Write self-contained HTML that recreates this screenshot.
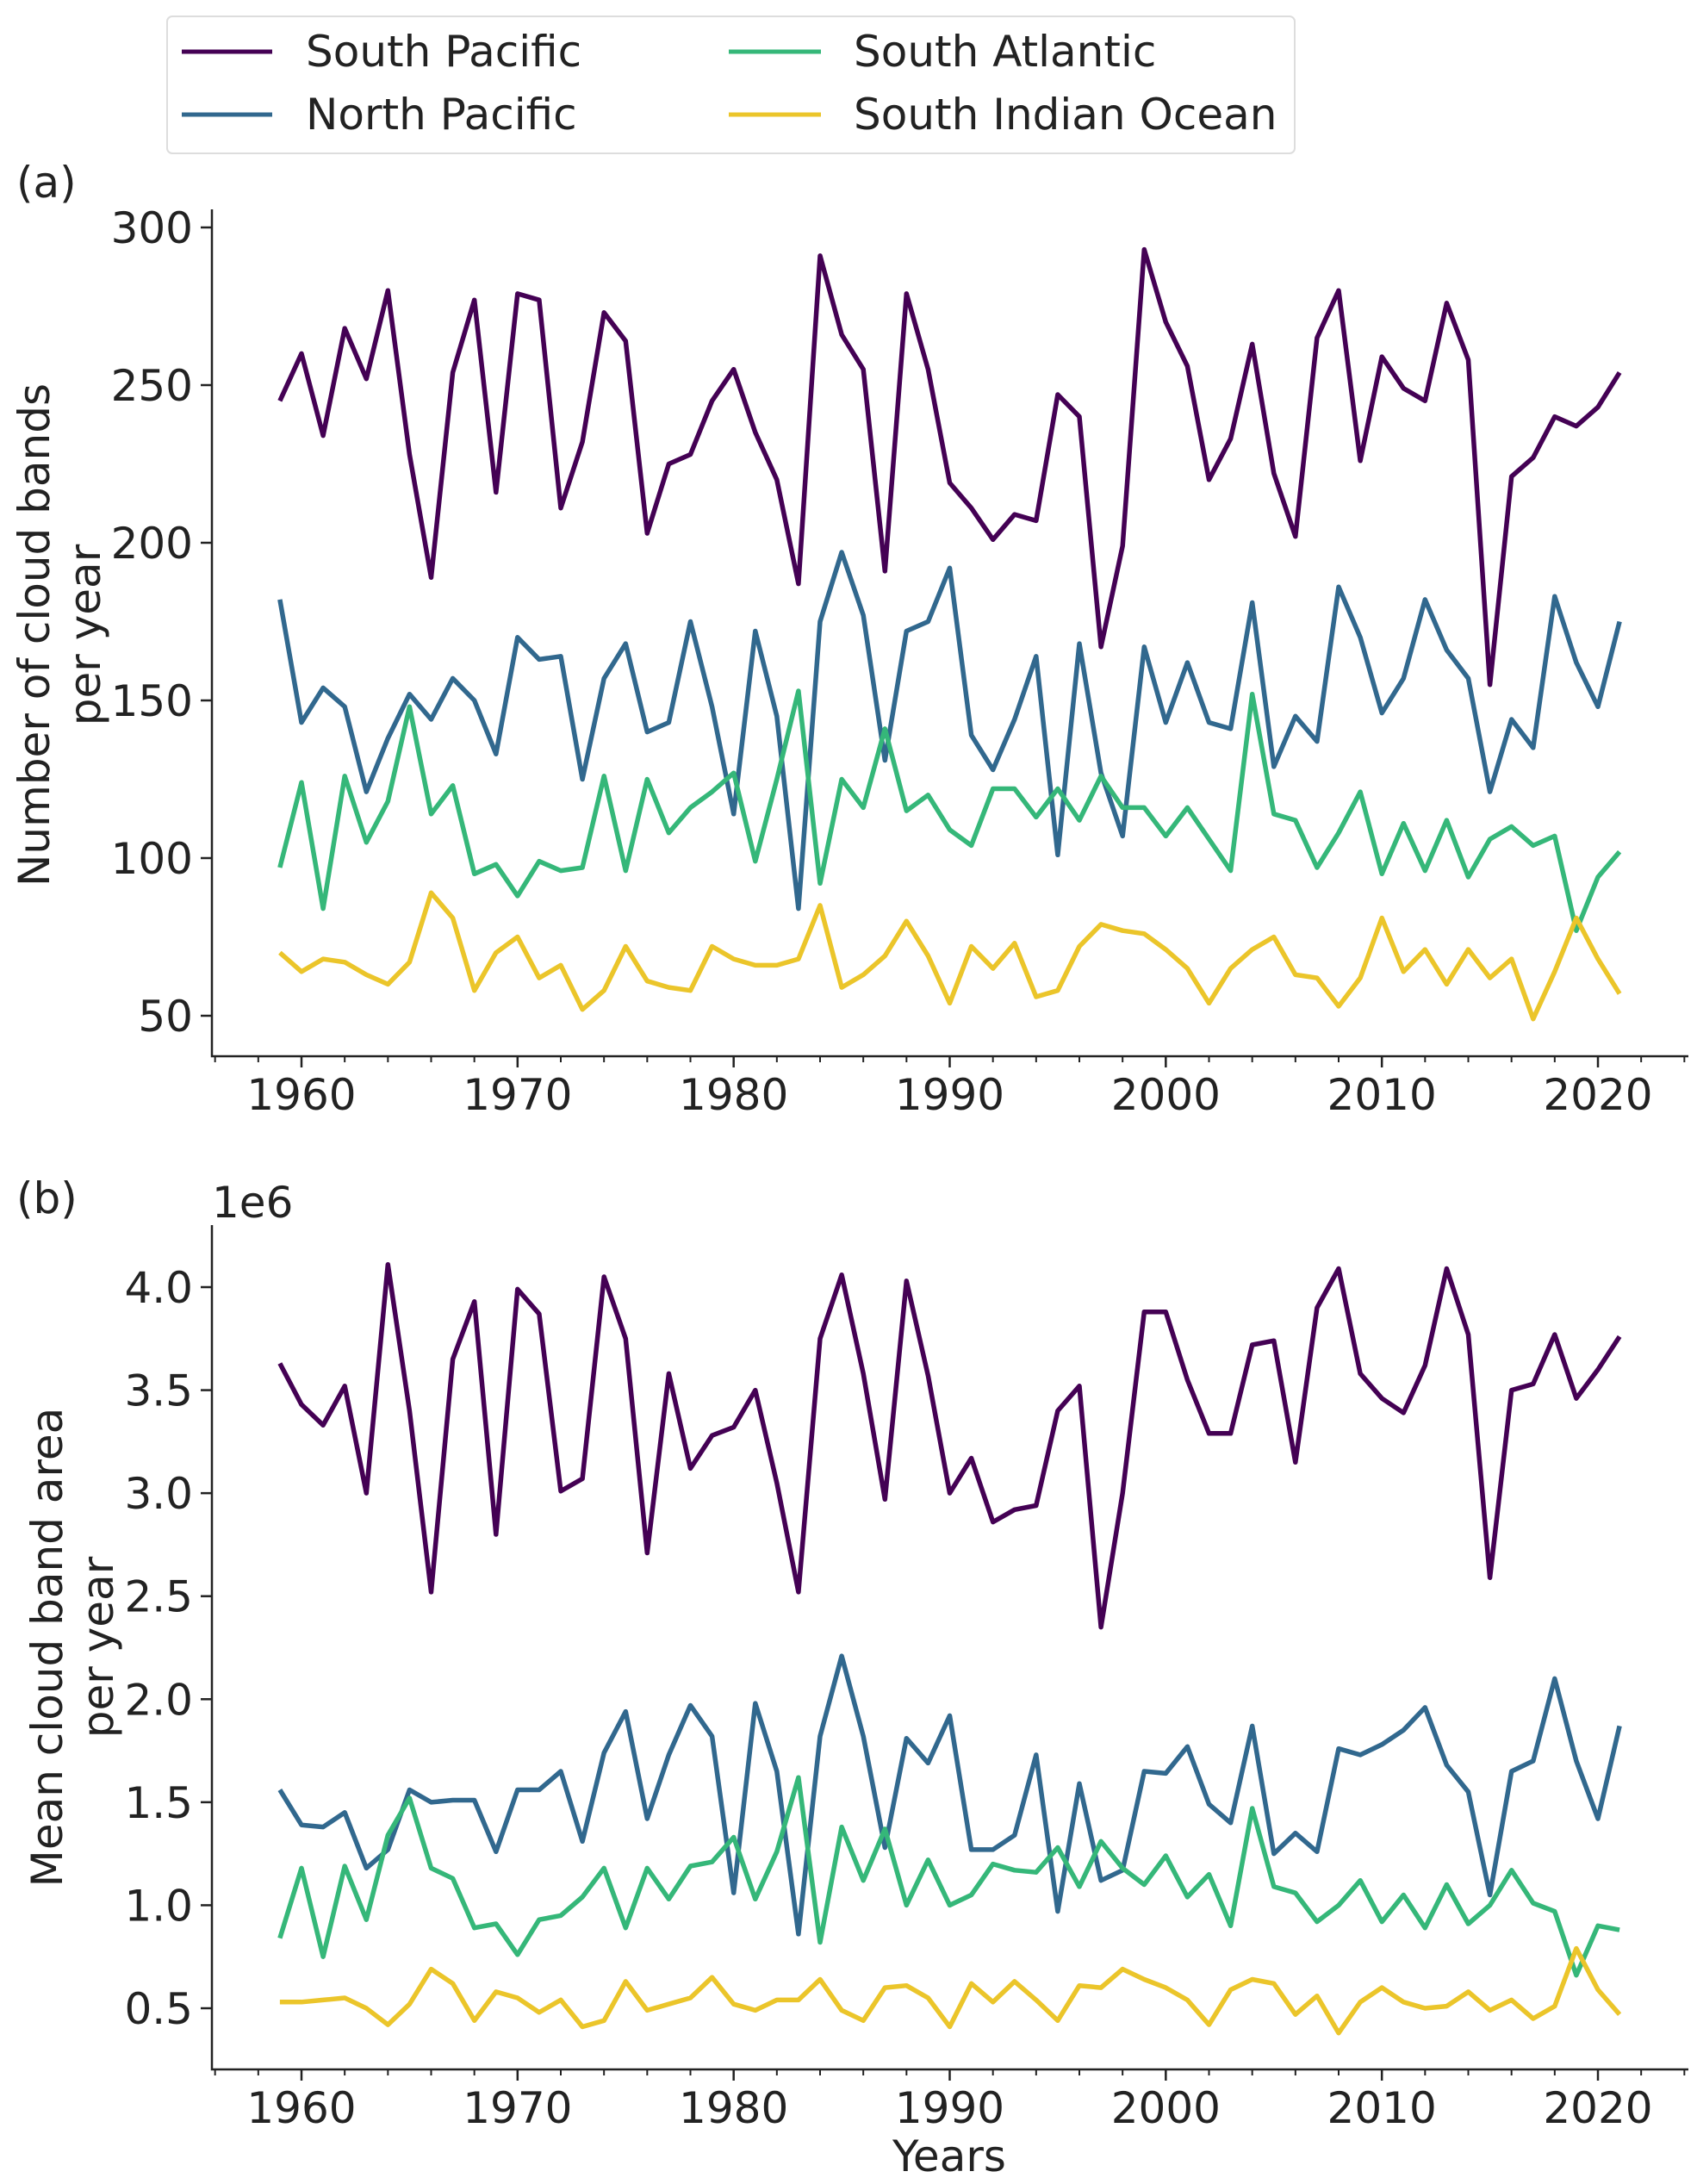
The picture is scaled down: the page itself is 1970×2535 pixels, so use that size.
<!DOCTYPE html>
<html><head><meta charset="utf-8"><style>
html,body{margin:0;padding:0;background:#fff;}
svg{display:block;font-family:"DejaVu Sans","Liberation Sans",sans-serif;}
</style></head><body>
<svg id="chart" width="1970" height="2535" viewBox="0 0 1970 2535" xmlns="http://www.w3.org/2000/svg">
<rect width="1970" height="2535" fill="#fff"/>
<g>
<rect x="194" y="19" width="1309" height="159" rx="6" fill="#fff" stroke="#ddd" stroke-width="2"/>
<line x1="211" y1="60" x2="316" y2="60" stroke="#440154" stroke-width="5"/>
<text x="355" y="77" font-size="50" fill="#222">South Pacific</text>
<line x1="211" y1="133" x2="316" y2="133" stroke="#31688e" stroke-width="5"/>
<text x="355" y="150" font-size="50" fill="#222">North Pacific</text>
<line x1="846" y1="60" x2="953" y2="60" stroke="#35b779" stroke-width="5"/>
<text x="991" y="77" font-size="50" fill="#222">South Atlantic</text>
<line x1="846" y1="133" x2="953" y2="133" stroke="#ebc52a" stroke-width="5"/>
<text x="991" y="150" font-size="50" fill="#222">South Indian Ocean</text>
</g>
<text x="19" y="229" font-size="50" fill="#222">(a)</text>
<text x="19" y="1408" font-size="50" fill="#222">(b)</text>
<text x="246" y="1413" font-size="50" fill="#222">1e6</text>
<text transform="translate(57,737) rotate(-90)" text-anchor="middle" font-size="50" fill="#222">Number of cloud bands</text>
<text transform="translate(116,737) rotate(-90)" text-anchor="middle" font-size="50" fill="#222">per year</text>
<text transform="translate(72,1912) rotate(-90)" text-anchor="middle" font-size="50" fill="#222">Mean cloud band area</text>
<text transform="translate(131,1912) rotate(-90)" text-anchor="middle" font-size="50" fill="#222">per year</text>
<text x="1102" y="2520" text-anchor="middle" font-size="50" fill="#222">Years</text>
</svg>
<script>
const startYear = 1959;
const xTicks = [1960,1970,1980,1990,2000,2010,2020];
const seriesNames = ["South Pacific","North Pacific","South Atlantic","South Indian Ocean"];
const countSP = [245,260,234,268,252,280,228,189,254,277,216,279,277,211,232,273,264,203,225,228,245,255,235,220,187,291,266,255,191,279,255,219,211,201,209,207,247,240,167,199,293,270,256,220,233,263,222,202,265,280,226,259,249,245,276,258,155,221,227,240,237,243,254];
const countNP = [182,143,154,148,121,138,152,144,157,150,133,170,163,164,125,157,168,140,143,175,148,114,172,145,84,175,197,177,131,172,175,192,139,128,144,164,101,168,127,107,167,143,162,143,141,181,129,145,137,186,170,146,157,182,166,157,121,144,135,183,162,148,175];
const countSA = [97,124,84,126,105,118,148,114,123,95,98,88,99,96,97,126,96,125,108,116,121,127,99,125,153,92,125,116,141,115,120,109,104,122,122,113,122,112,126,116,116,107,116,106,96,152,114,112,97,108,121,95,111,96,112,94,106,110,104,107,77,94,102];
const countSIO = [70,64,68,67,63,60,67,89,81,58,70,75,62,66,52,58,72,61,59,58,72,68,66,66,68,85,59,63,69,80,69,54,72,65,73,56,58,72,79,77,76,71,65,54,65,71,75,63,62,53,62,81,64,71,60,71,62,68,49,64,81,68,57];
const areaSP = [3.63,3.43,3.33,3.52,3.00,4.11,3.40,2.52,3.65,3.93,2.80,3.99,3.87,3.01,3.07,4.05,3.75,2.71,3.58,3.12,3.28,3.32,3.50,3.05,2.52,3.75,4.06,3.58,2.97,4.03,3.57,3.00,3.17,2.86,2.92,2.94,3.40,3.52,2.35,3.00,3.88,3.88,3.55,3.29,3.29,3.72,3.74,3.15,3.90,4.09,3.58,3.46,3.39,3.62,4.09,3.77,2.59,3.50,3.53,3.77,3.46,3.60,3.76];
const areaNP = [1.56,1.39,1.38,1.45,1.18,1.27,1.56,1.50,1.51,1.51,1.26,1.56,1.56,1.65,1.31,1.74,1.94,1.42,1.73,1.97,1.82,1.06,1.98,1.65,0.86,1.82,2.21,1.82,1.28,1.81,1.69,1.92,1.27,1.27,1.34,1.73,0.97,1.59,1.12,1.17,1.65,1.64,1.77,1.49,1.40,1.87,1.25,1.35,1.26,1.76,1.73,1.78,1.85,1.96,1.68,1.55,1.05,1.65,1.70,2.10,1.70,1.42,1.87];
const areaSA = [0.84,1.18,0.75,1.19,0.93,1.34,1.52,1.18,1.13,0.89,0.91,0.76,0.93,0.95,1.04,1.18,0.89,1.18,1.03,1.19,1.21,1.33,1.03,1.26,1.62,0.82,1.38,1.12,1.37,1.00,1.22,1.00,1.05,1.20,1.17,1.16,1.28,1.09,1.31,1.18,1.10,1.24,1.04,1.15,0.90,1.47,1.09,1.06,0.92,1.00,1.12,0.92,1.05,0.89,1.10,0.91,1.00,1.17,1.01,0.97,0.66,0.90,0.88];
const areaSIO = [0.53,0.53,0.54,0.55,0.50,0.42,0.52,0.69,0.62,0.44,0.58,0.55,0.48,0.54,0.41,0.44,0.63,0.49,0.52,0.55,0.65,0.52,0.49,0.54,0.54,0.64,0.49,0.44,0.60,0.61,0.55,0.41,0.62,0.53,0.63,0.54,0.44,0.61,0.60,0.69,0.64,0.60,0.54,0.42,0.59,0.64,0.62,0.47,0.56,0.38,0.53,0.60,0.53,0.50,0.51,0.58,0.49,0.54,0.45,0.51,0.79,0.59,0.47];
const yTicksA = [50,100,150,200,250,300];
const yTickLabelsA = ["50","100","150","200","250","300"];
const yTicksB = [0.5,1.0,1.5,2.0,2.5,3.0,3.5,4.0];
const yTickLabelsB = ["0.5","1.0","1.5","2.0","2.5","3.0","3.5","4.0"];

const colors = ["#440154","#31688e","#35b779","#ebc52a"];
const NS = "http://www.w3.org/2000/svg";
const svg = document.getElementById("chart");
function x(year){ return 350 + (year-1960)*(1855-350)/60; }
function mk(tag, attrs, parent){
  const e = document.createElementNS(NS, tag);
  for (const k in attrs) e.setAttribute(k, attrs[k]);
  parent.appendChild(e); return e;
}
function panel(id, top, bottom, yFn, ticks, labels, data){
  const g = mk("g", {}, svg);
  
  
  const ax = mk("path", {d:`M246 ${top} V${bottom} H1960`, stroke:"#222", "stroke-width":2.5, fill:"none"}, g);
  
  
  ticks.forEach((t,i)=>{
    const yy = yFn(t);
    mk("line",{x1:233,x2:246,y1:yy,y2:yy,stroke:"#222","stroke-width":2.5},g);
    const tx = mk("text",{x:224,y:yy+18,"text-anchor":"end","font-size":50,fill:"#222"},g);
    tx.textContent = labels[i];
    
    
  });
  for (let yr=1956; yr<=2024; yr+=2){
    mk("line",{x1:x(yr),x2:x(yr),y1:bottom,y2:bottom+7,stroke:"#222","stroke-width":2},g);
  }
  xTicks.forEach(t=>{
    mk("line",{x1:x(t),x2:x(t),y1:bottom,y2:bottom+13,stroke:"#222","stroke-width":2.5},g);
    const tx = mk("text",{x:x(t),y:bottom+62,"text-anchor":"middle","font-size":50,fill:"#222"},g);
    tx.textContent = t;
    
    
  });
  data.forEach((arr,si)=>{
    const d = arr.map((v,i)=>(i?"L":"M")+x(startYear+i).toFixed(1)+" "+yFn(v).toFixed(1)).join(" ");
    const p = mk("path",{d:d,stroke:colors[si],"stroke-width":5.5,fill:"none","stroke-linejoin":"round"},g);
    
    
  });
}
panel("panel-a-count", 243, 1226, v=>264 + (300-v)*(1179-264)/250, yTicksA, yTickLabelsA, [countSP,countNP,countSA,countSIO]);
panel("panel-b-area", 1422, 2402, v=>1494 + (4.0-v)*(2331-1494)/3.5, yTicksB, yTickLabelsB, [areaSP,areaNP,areaSA,areaSIO]);
</script>
</body></html>
